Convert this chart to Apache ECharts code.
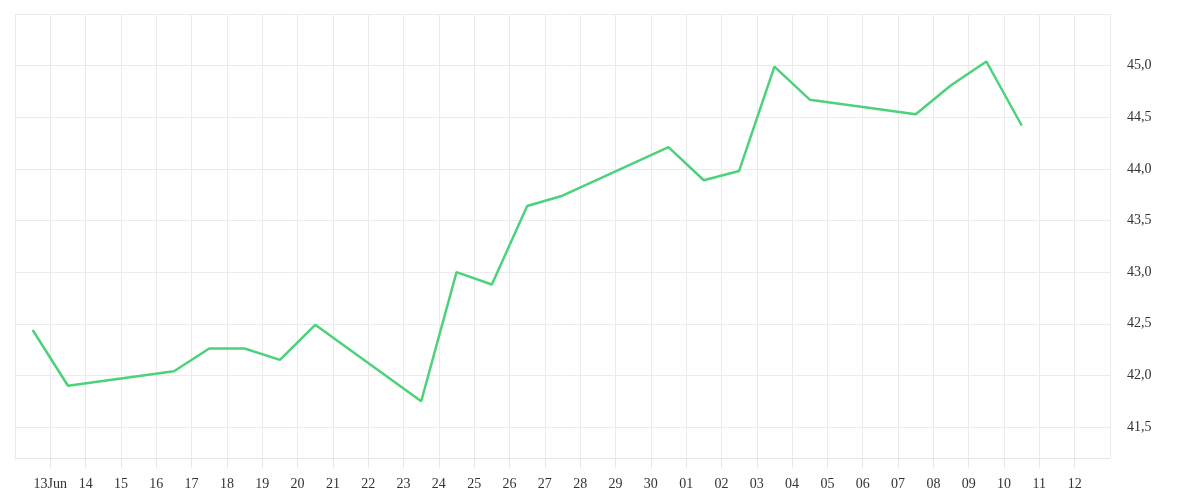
<!DOCTYPE html>
<html>
<head>
<meta charset="utf-8">
<script src="https://cdn.jsdelivr.net/npm/echarts@6/dist/echarts.min.js"></script>
<style>
    html, body { margin:0; padding:0; background:#fff; }
    #chart { width:1200px; height:500px; }
</style>
</head>
<body>
<div id="chart"></div>
<script>
// daily closes (weekends skipped)
var dates = ['2025-06-12','2025-06-13','2025-06-16','2025-06-17','2025-06-18','2025-06-19','2025-06-20',
    '2025-06-23','2025-06-24','2025-06-25','2025-06-26','2025-06-27','2025-06-30',
    '2025-07-01','2025-07-02','2025-07-03','2025-07-04','2025-07-07','2025-07-08','2025-07-09','2025-07-10'];
var prices = [42.44, 41.90, 42.04, 42.26, 42.26, 42.15, 42.49,
    41.75, 43.00, 42.88, 43.64, 43.74, 44.21,
    43.89, 43.98, 44.99, 44.67, 44.53, 44.81, 45.04, 44.42];
var xStart = '2025-06-12';
var xEnd = '2025-07-13';
var yMin = 41.2;
var yMax = 45.5;

var DAY = 86400000;
function toMs(s) {
    var p = s.split('-');
    return Date.UTC(+p[0], +p[1] - 1, +p[2]);
}
var seriesData = [];
dates.forEach(function (d, i) {
    seriesData.push([toMs(d) + DAY / 2, prices[i]]);
});
var firstLabel = toMs(xStart) + DAY;

var myChart = echarts.init(document.getElementById('chart'));
var option = {
    animation: false,
    textStyle: { fontFamily: 'Liberation Serif' },
    grid: { left: 15, right: 90, top: 14, bottom: 42 },
    xAxis: {
        type: 'value',
        min: toMs(xStart),
        max: toMs(xEnd),
        interval: DAY,
        axisLine: { show: true, onZero: false, lineStyle: { color: '#e6e6e6' } },
        axisTick: { show: true, inside: false, length: 10, lineStyle: { color: '#e6e6e6', width: 1 } },
        splitLine: { show: true, lineStyle: { color: '#ebebeb' } },
        axisLabel: {
            showMinLabel: false,
            showMaxLabel: false,
            margin: 19,
            fontSize: 14,
            color: '#333',
            fontFamily: 'Liberation Serif',
            formatter: function (v) {
                var d = new Date(v);
                var day = ('0' + d.getUTCDate()).slice(-2);
                if (v === firstLabel) return day + 'Jun';
                return day;
            }
        }
    },
    yAxis: {
        type: 'value',
        position: 'right',
        min: yMin,
        max: yMax,
        splitNumber: 8,
        axisLine: { show: false },
        axisTick: { show: false },
        splitLine: { show: true, lineStyle: { color: '#ebebeb' } },
        axisLabel: {
            showMinLabel: false,
            showMaxLabel: false,
            margin: 17,
            fontSize: 14,
            color: '#333',
            fontFamily: 'Liberation Serif',
            padding: [3, 0, 0, 0],
            formatter: function (v) {
                return v.toFixed(1).replace('.', ',');
            }
        }
    },
    series: [
        {
            type: 'line',
            data: seriesData,
            showSymbol: false,
            lineStyle: { color: '#4cd27a', width: 2.5 },
            itemStyle: { color: '#4cd27a' }
        }
    ]
};
myChart.setOption(option);
</script>
</body>
</html>
